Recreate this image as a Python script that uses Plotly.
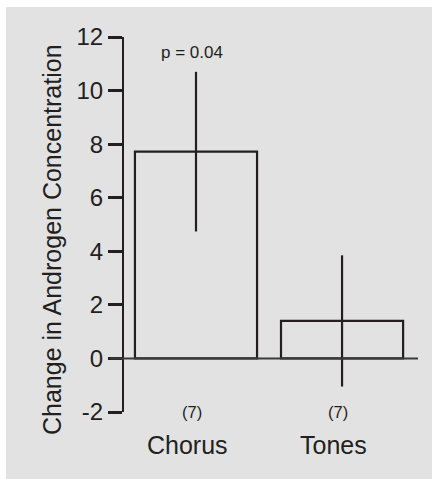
import plotly.graph_objects as go

categories = ["Chorus", "Tones"]
means = [7.72, 1.40]
errors = [2.98, 2.45]
n_labels = ["(7)", "(7)"]
p_text = "p = 0.04"
y_ticks = [-2, 0, 2, 4, 6, 8, 10, 12]
y_title = "Change in Androgen Concentration"

INK = "#231f20"
BG = "#e2e2e2"
FONT = "Liberation Sans, Arial, sans-serif"

W, H = 432, 479
L, R, T, B = 124, 14, 37, 67
pw, ph = W - L - R, H - T - B

fig = go.Figure()
fig.add_trace(go.Bar(
    x=categories, y=means, width=0.836,
    marker=dict(color="rgba(0,0,0,0)", line=dict(color=INK, width=2.2)),
    error_y=dict(type="data", array=errors, visible=True, width=0, thickness=2.2, color=INK),
    showlegend=False, hoverinfo="skip",
))

# grey panel (white strip at top and left)
fig.add_shape(type="rect", xref="paper", yref="paper", layer="below",
              x0=(6 - L) / pw, x1=(W - L + 5) / pw,
              y0=-(B + 5) / ph, y1=(H - B - 7) / ph,
              fillcolor=BG, line=dict(width=0))
# zero line extending left of the axis
fig.add_shape(type="line", xref="paper", yref="y",
              x0=-14 / pw, x1=1, y0=0, y1=0,
              line=dict(color="#3a3a3a", width=2))

fig.add_annotation(text=p_text, x=categories[0], y=12, yref="y", xshift=-4, yshift=-15,
                   showarrow=False, font=dict(size=17, color=INK, family=FONT))
for c, n in zip(categories, n_labels):
    fig.add_annotation(text=n, x=c, y=-2, yref="y", xshift=-4, yshift=0,
                       showarrow=False, font=dict(size=16.5, color=INK, family=FONT))
    fig.add_annotation(text=c, x=c, y=-2, yref="y", xshift=-9, yshift=-33,
                       showarrow=False, font=dict(size=25, color=INK, family=FONT))

fig.add_annotation(text=y_title, xref="paper", yref="paper",
                   x=-72 / pw, y=172 / ph, textangle=-90,
                   xanchor="center", yanchor="middle",
                   showarrow=False, font=dict(size=25, color=INK, family=FONT))

fig.update_layout(
    width=W, height=H,
    margin=dict(l=L, r=R, t=T, b=B),
    paper_bgcolor="white", plot_bgcolor="rgba(0,0,0,0)",
    font=dict(family=FONT, color=INK),
    xaxis=dict(range=[-0.493, 1.52], showticklabels=False, showline=False,
               showgrid=False, zeroline=False, ticks=""),
    yaxis=dict(range=[-2, 12], tickvals=y_ticks, ticktext=[str(v) for v in y_ticks],
               showline=True, linecolor=INK, linewidth=2.2,
               ticks="outside", ticklen=14, tickwidth=2.5, tickcolor=INK,
               showgrid=False, zeroline=False,
               tickfont=dict(size=24, color=INK, family=FONT)),
)

fig.write_html("out.html", config={"displayModeBar": False},
               post_script="document.body.style.margin='0';document.body.style.overflow='hidden';")
